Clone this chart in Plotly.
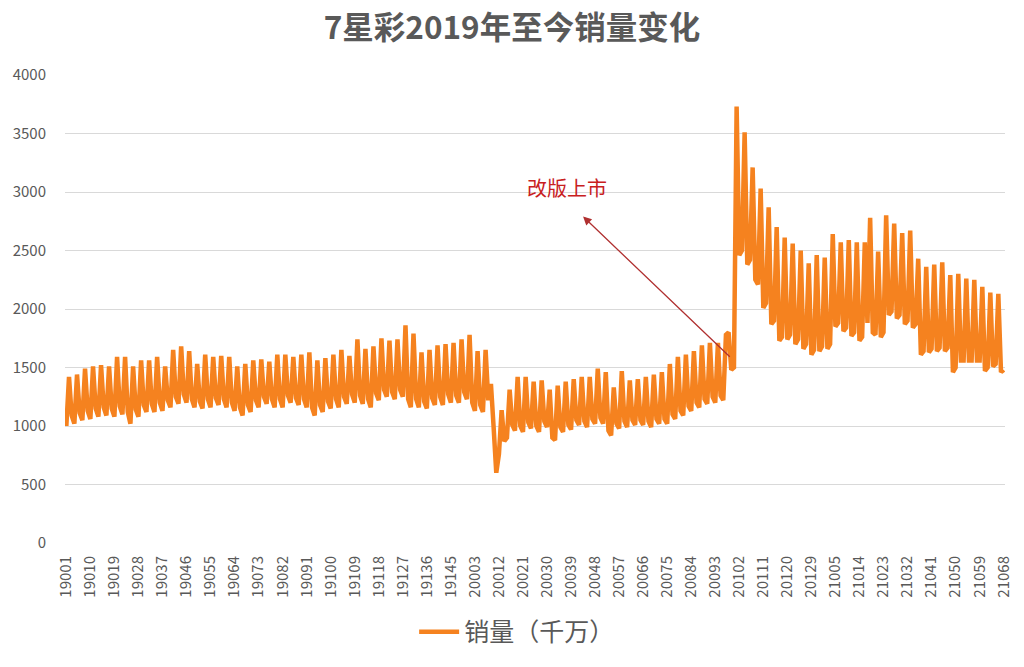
import plotly.graph_objects as go

# ---------------- data ----------------
n_2019 = 151
n_2020 = 133
n_2021 = 68

sales_2019 = [
    1000,
    1420, 1090, 1020, 1440, 1110, 1050, 1490, 1130, 1060, 1510, 1150, 1080,
    1520, 1160, 1090, 1510, 1150, 1080, 1590, 1170, 1100, 1590, 1120, 1020,
    1510, 1140, 1080, 1560, 1180, 1120, 1560, 1190, 1120, 1590, 1200, 1130,
    1510, 1220, 1160, 1650, 1250, 1190, 1680, 1270, 1200,
    1640, 1230, 1160, 1530, 1210, 1150, 1610, 1230, 1160, 1590, 1240, 1180,
    1600, 1230, 1160, 1590, 1200, 1130, 1510, 1160, 1090, 1530, 1180, 1120,
    1560, 1220, 1160, 1570, 1250, 1190, 1550, 1230, 1160, 1610, 1230, 1160,
    1610, 1260, 1200, 1590, 1240, 1180, 1610, 1230, 1160,
    1630, 1160, 1090, 1560, 1180, 1120, 1580, 1210, 1150, 1610, 1230, 1160,
    1650, 1250, 1190, 1600, 1270, 1200, 1740, 1260, 1190, 1660, 1230, 1160,
    1680, 1280, 1220, 1750, 1310, 1250, 1730, 1290, 1230, 1740, 1310, 1250,
    1860, 1230, 1160, 1790, 1230, 1160, 1630, 1210, 1150,
    1650, 1240, 1180, 1690, 1250, 1180, 1700, 1270, 1200, 1710, 1260, 1200,
    1740, 1290, 1230,
]

sales_2020 = [
    1780, 1200, 1130, 1640, 1180, 1120,
    1650, 1220, 1360, 990, 600, 760, 1135, 870, 900,
    1310, 1010, 960,
    1420, 1000, 950, 1420, 1030, 980, 1380, 1000, 950, 1390, 1040, 990,
    1310, 900, 880, 1345, 990, 950, 1380, 1010, 970, 1400, 1050, 1010,
    1420, 1040, 990, 1420, 1060, 1020, 1490, 1070, 1020, 1460, 960, 920,
    1330, 1020, 980, 1470, 1040, 990, 1390, 1050, 1010, 1400, 1050, 1010,
    1420, 1040, 990, 1440, 1060, 1020, 1460, 1060, 1020, 1530, 1100, 1060,
    1590, 1130, 1090, 1610, 1170, 1130, 1640, 1200, 1160, 1690, 1230, 1190,
    1710, 1250, 1200, 1710, 1260, 1220,
    1780, 1800, 1480, 1500,
    3730, 2460, 2500, 3510, 2380, 2420, 3210, 2250, 2210, 3030, 2010, 2050,
    2870, 1870, 1900, 2700, 1730, 1760, 2610, 1740, 1780, 2560, 1700, 1740,
    2500, 1660, 1700, 2390, 1610, 1650, 2460, 1640, 1680,
]

sales_2021 = [
    2440, 1660, 1700, 2640, 1850, 1880, 2570, 1810, 1840, 2590, 1770, 1800,
    2570, 1730, 1760, 2570, 1880,
    2780, 1800, 1780, 2490, 1760, 1800, 2800, 1950, 1980, 2730, 1920, 1950,
    2650, 1870, 1900, 2670, 1840, 1870, 2430, 1610, 1640, 2360, 1630, 1660,
    2380, 1640, 1670, 2400, 1640, 1670, 2290, 1460, 1500, 2300, 1560, 1560,
    2260, 1560, 1560, 2250, 1560, 1560, 2190, 1470, 1500, 2140, 1510, 1530,
    2130, 1460, 1480,
]

tick_labels = [
    "19001", "19010", "19019", "19028", "19037", "19046", "19055", "19064",
    "19073", "19082", "19091", "19100", "19109", "19118", "19127", "19136",
    "19145", "20003", "20012", "20021", "20030", "20039", "20048", "20057",
    "20066", "20075", "20084", "20093", "20102", "20111", "20120", "20129",
    "21005", "21014", "21023", "21032", "21041", "21050", "21059", "21068",
]

y_ticks = [0, 500, 1000, 1500, 2000, 2500, 3000, 3500, 4000]

# annotation anchor points (category position index, value)
arrow_tail = (249.0, 1580)
arrow_head = (193.5, 2790)
note_pos = (187.5, 3040)

# ---------------- build ----------------
periods = ([f"19{i:03d}" for i in range(1, n_2019 + 1)]
           + [f"20{i:03d}" for i in range(1, n_2020 + 1)]
           + [f"21{i:03d}" for i in range(1, n_2021 + 1)])
sales = sales_2019 + sales_2020 + sales_2021
n = len(periods)

FONT = "Noto Sans CJK SC, Noto Sans, sans-serif"
ORANGE = "#F5821F"
GREY = "#595959"

fig = go.Figure()
fig.add_trace(go.Scatter(
    x=periods, y=sales[:n], mode="lines", name="销量（千万）",
    line=dict(color=ORANGE, width=4.5), hoverinfo="skip",
))

fig.add_annotation(
    x=arrow_head[0], y=arrow_head[1], ax=arrow_tail[0], ay=arrow_tail[1],
    xref="x", yref="y", axref="x", ayref="y", text="",
    showarrow=True, arrowhead=2, arrowsize=1.3, arrowwidth=1.3,
    arrowcolor="#B03030",
)
fig.add_annotation(
    x=note_pos[0], y=note_pos[1], xref="x", yref="y", text="改版上市",
    showarrow=False, font=dict(family=FONT, size=20, color="#C8201E"),
)

fig.update_layout(
    width=1024, height=667,
    paper_bgcolor="white", plot_bgcolor="white",
    margin=dict(l=65, r=19, t=75, b=120),
    hovermode=False,
    title=dict(text="<b>7星彩2019年至今销量变化</b>", x=0.5, xanchor="center",
               y=1 - 28 / 667, yanchor="middle",
               font=dict(family=FONT, size=31.5, color=GREY)),
    font=dict(family=FONT, color=GREY),
    showlegend=True,
    legend=dict(orientation="h", x=0.481, xanchor="center", y=-0.19, yanchor="middle",
                itemwidth=40,
                font=dict(family=FONT, size=25, color=GREY)),
    xaxis=dict(type="category", categoryorder="array", categoryarray=periods,
               range=[-0.5, n - 0.5], tickmode="array", tickvals=tick_labels,
               ticktext=tick_labels, tickangle=-90, showgrid=False,
               tickfont=dict(family=FONT, size=15, color=GREY),
               ticklabelstandoff=9,
               showline=False, zeroline=False, ticks=""),
    yaxis=dict(range=[0, 4000], tickvals=y_ticks, showgrid=True,
               gridcolor="#D9D9D9", gridwidth=1, zeroline=False,
               tickfont=dict(family=FONT, size=15, color=GREY), ticks="",
               ticklabelstandoff=18, showline=False),
)

fig.write_html("out.html", config={"displayModeBar": False},
               post_script="document.body.style.margin='0';")
